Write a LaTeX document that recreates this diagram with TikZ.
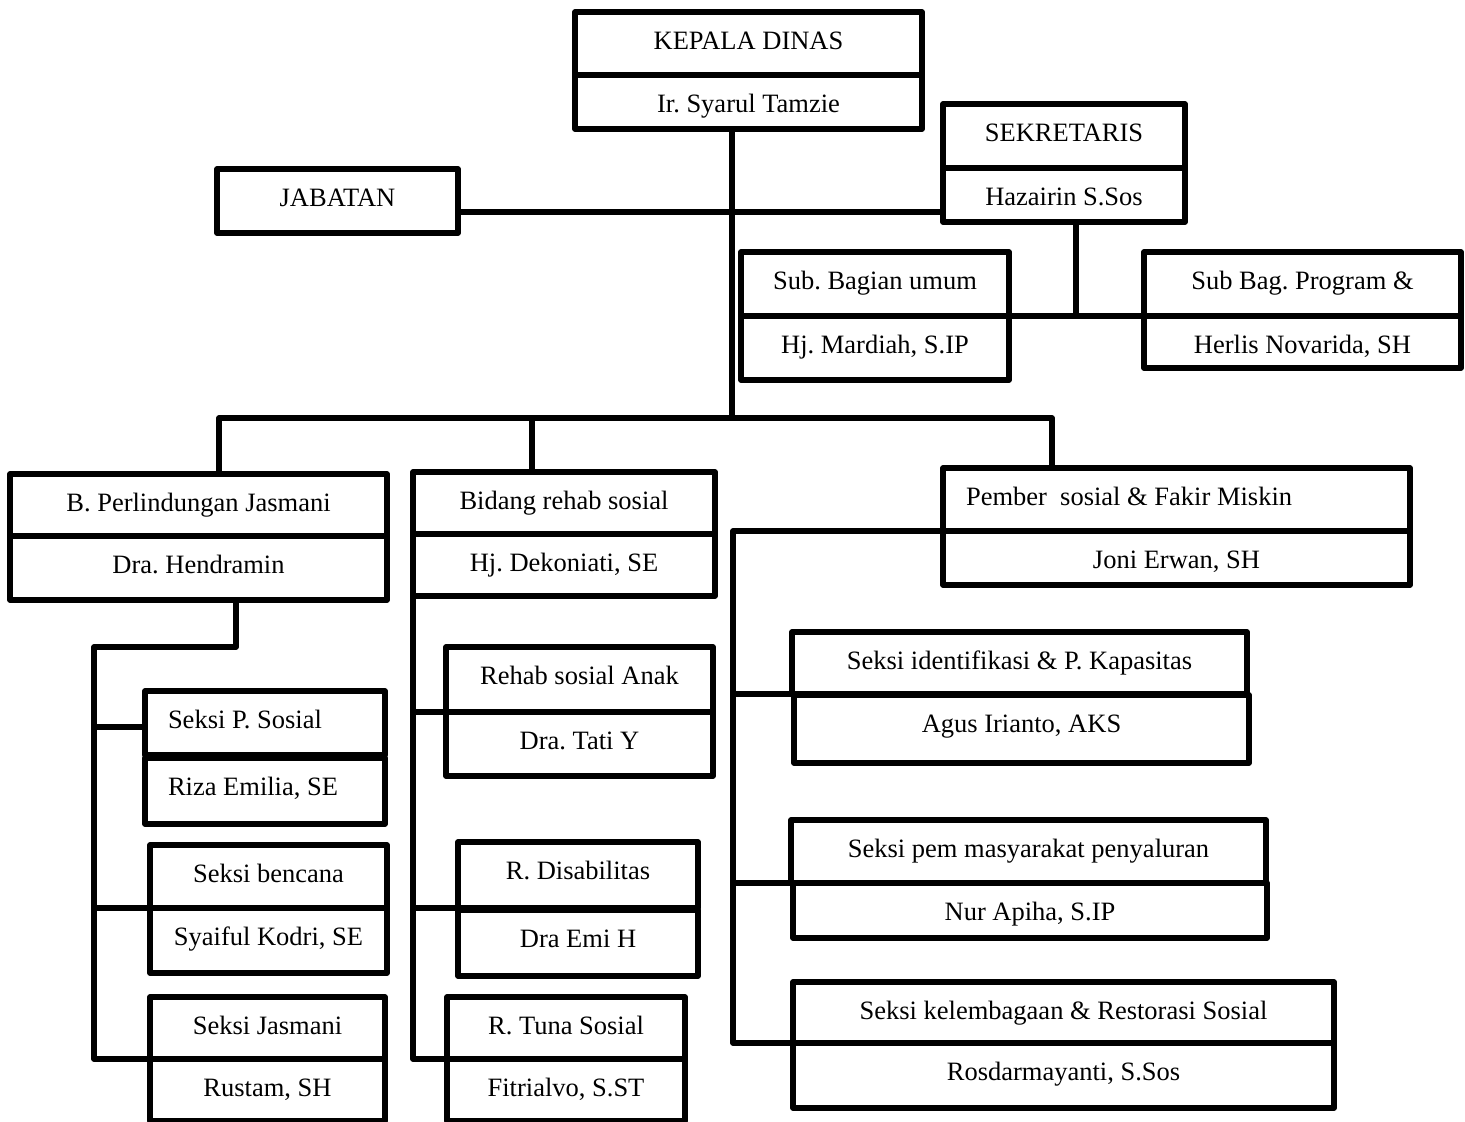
\documentclass[tikz,border=0pt]{standalone}
\usepackage{fontspec}
\setmainfont{Liberation Serif}
\usetikzlibrary{calc, positioning}

\begin{document}
\frenchspacing
\begin{tikzpicture}[x=0.5pt, y=-0.5pt,
  unit/.style 2 args={draw, line width=2.6pt, line join=round, outer sep=0pt, inner sep=0pt,
    anchor=north west, minimum width=#1*0.5pt, minimum height=#2*0.5pt,
    text height=37.5*0.5pt, text depth=(#2-37.5)*0.5pt,
    font=\fontsize{13.25}{15}\selectfont},
  lpad/.style={text width=#1*0.5pt, align=flush left},
  link/.style={line width=2.6pt, line join=round}]
\useasboundingbox (0,0) rectangle (1465,1122);
\clip (0,0) rectangle (1465,1122);

% Kepala Dinas
\node[unit={347}{63}] (kepala) at (575,12) {KEPALA DINAS};
\node[unit={347}{54}] (kepalaN) at (575,75) {Ir. Syarul Tamzie};

% Jabatan and Sekretaris
\node[unit={241}{64}] (jabatan) at (217,169) {JABATAN};
\node[unit={242}{64}] (sek) at (943,104) {SEKRETARIS};
\node[unit={242}{54}] (sekN) at (943,168) {Hazairin S.Sos};

% Sub bagian
\node[unit={268}{64}] (subumum) at (741,252) {Sub. Bagian umum};
\node[unit={268}{64}] (subumumN) at (741,316) {Hj. Mardiah, S.IP};
\node[unit={317}{64}] (subprog) at (1144,252) {Sub Bag. Program \&};
\node[unit={317}{52}] (subprogN) at (1144,316) {Herlis Novarida, SH};

% Bidang
\node[unit={377}{62}] (perlind) at (10,474) {B. Perlindungan Jasmani};
\node[unit={377}{64}] (perlindN) at (10,536) {Dra. Hendramin};
\node[unit={302}{62}] (rehab) at (413,472) {Bidang rehab sosial};
\node[unit={302}{62}] (rehabN) at (413,534) {Hj. Dekoniati, SE};
\node[unit={467}{63}, lpad=421] (pember) at (943,468) {Pember~ sosial \& Fakir Miskin};
\node[unit={467}{54}] (pemberN) at (943,531) {Joni Erwan, SH};

% Seksi under B. Perlindungan Jasmani
\node[unit={240}{64}, lpad=194] (sosial) at (145,691) {Seksi P. Sosial};
\node[unit={240}{66}, lpad=194] (sosialN) at (145,758) {Riza Emilia, SE};
\node[unit={237}{63}] (bencana) at (150,845) {Seksi bencana};
\node[unit={237}{65}] (bencanaN) at (150,908) {Syaiful Kodri, SE};
\node[unit={235}{62}] (jasmani) at (150,997) {Seksi Jasmani};
\node[unit={235}{62}] (jasmaniN) at (150,1059) {Rustam, SH};

% Seksi under Bidang rehab sosial
\node[unit={267}{65}] (anak) at (446,647) {Rehab sosial Anak};
\node[unit={267}{64}] (anakN) at (446,712) {Dra. Tati Y};
\node[unit={240}{66}] (disab) at (458,842) {R. Disabilitas};
\node[unit={240}{66}] (disabN) at (458,910) {Dra Emi H};
\node[unit={238}{62}] (tuna) at (447,997) {R. Tuna Sosial};
\node[unit={238}{62}] (tunaN) at (447,1059) {Fitrialvo, S.ST};

% Seksi under Pember sosial
\node[unit={455}{62}] (ident) at (792,632) {Seksi identifikasi \& P. Kapasitas};
\node[unit={455}{68}] (identN) at (794,695) {Agus Irianto, AKS};
\node[unit={475}{63}] (pem) at (791,820) {Seksi pem masyarakat penyaluran};
\node[unit={474}{55}] (pemN) at (793,883) {Nur Apiha, S.IP};
\node[unit={541}{61}] (kelem) at (793,982) {Seksi kelembagaan \& Restorasi Sosial};
\node[unit={541}{65}] (kelemN) at (793,1043) {Rosdarmayanti, S.Sos};

% Main trunk
\coordinate (hub) at (732,212);
\coordinate (bus) at (732,418);
\draw[link] (kepalaN.south -| hub) -- (bus);
\draw[link] (jabatan.east |- hub) -- (sekN.west |- hub);

% Sekretaris branch
\coordinate (sekhub) at (1076,316);
\draw[link] (sekN.south -| sekhub) -- (sekhub);
\draw[link] (subumum.south east) -- (subprog.south west);

% Bus to the three bidang
\coordinate (b1) at (219,418);
\coordinate (b2) at (532,418);
\coordinate (b3) at (1052,418);
\draw[link] (b1 |- perlind.north) -- (b1) -- (b3) -- (b3 |- pember.north);
\draw[link] (b2) -- (b2 |- rehab.north);

% B. Perlindungan Jasmani
\coordinate (l1) at (236,647);
\coordinate (l2) at (94,647);
\draw[link] (perlindN.south -| l1) -- (l1) -- (l2) -- (l2 |- jasmani.south west) -- (jasmani.south west);
\draw[link] (l2 |- 0,727) -- (sosial.west |- 0,727);
\draw[link] (l2 |- bencana.south west) -- (bencana.south west);

% Bidang rehab sosial
\draw[link] (rehabN.south west) -- (rehabN.south west |- tuna.south) -- (tuna.south west);
\draw[link] (rehabN.south west |- anak.south west) -- (anak.south west);
\draw[link] (rehabN.south west |- disab.south west) -- (disab.south west);

% Pember sosial & Fakir Miskin
\coordinate (r1) at (733,535);
\draw[link] (pember.south west) -- (pember.south west -| r1) -- (r1 |- kelem.south west) -- (kelem.south west);
\draw[link] (r1 |- ident.south west) -- (ident.south west);
\draw[link] (r1 |- pem.south west) -- (pem.south west);

\end{tikzpicture}
\end{document}
